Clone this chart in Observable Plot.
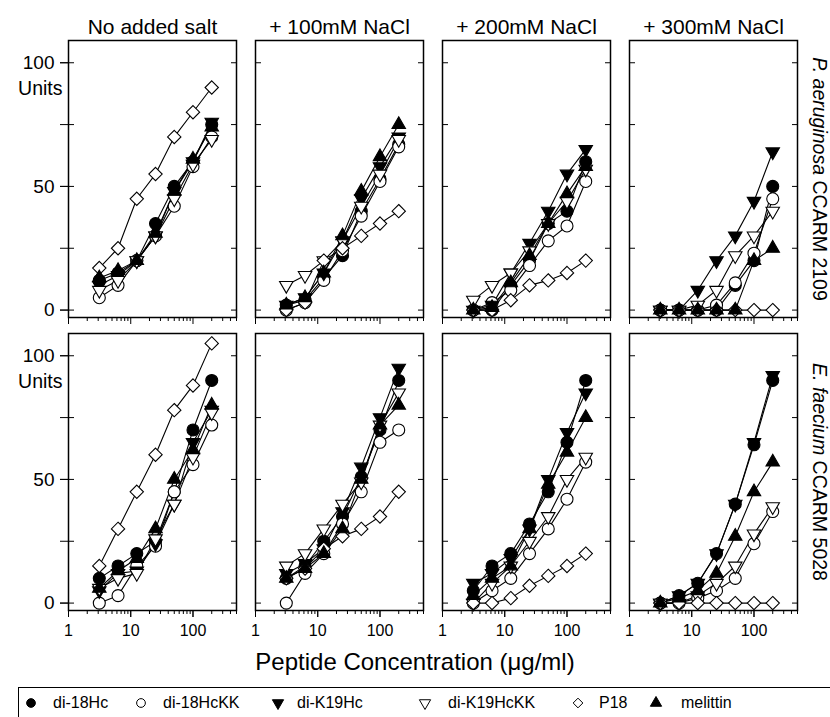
<!DOCTYPE html>
<html>
<head>
<meta charset="utf-8">
<script src="https://cdn.jsdelivr.net/npm/d3@7"></script>
<script src="https://cdn.jsdelivr.net/npm/@observablehq/plot@0.6"></script>
<style>
  html, body { margin: 0; padding: 0; background: #fff; }
  #wrap { position: relative; width: 830px; height: 717px; overflow: hidden; font-family: "Liberation Sans", Arial, sans-serif; color: #000; }
  #chart { position: absolute; left: 0; top: 0; }
  #xtitle { position: absolute; left: 0; width: 830px; top: 648px; text-align: center; font-size: 24px; }
  #legend { position: absolute; left: 18px; top: 687px; width: 840px; height: 40px; border: 1.5px solid #000; box-sizing: border-box; }
  .li { position: absolute; top: 5px; font-size: 16px; line-height: 20px; white-space: nowrap; }
  .ls { position: absolute; top: 8px; }
</style>
</head>
<body>
<div id="wrap">
  <div id="chart"></div>
  <div id="xtitle">Peptide Concentration (μg/ml)</div>
  <div id="legend"></div>
</div>
<script>
// ---- data ----
const conc = [3.125, 6.25, 12.5, 25, 50, 100, 200];
const salts = ["No added salt", "+ 100mM NaCl", "+ 200mM NaCl", "+ 300mM NaCl"];
const organisms = ["P. aeruginosa CCARM 2109", "E. faecium CCARM 5028"];
const species = ["P. aeruginosa", "E. faecium"];
const peptides = ["di-18Hc", "di-18HcKK", "di-K19Hc", "di-K19HcKK", "P18", "melittin"];
const xTicks = [1, 10, 100];
const xMinorTicks = [2, 3, 4, 5, 6, 7, 8, 9, 20, 30, 40, 50, 60, 70, 80, 90, 200, 300, 400, 500];
const yTicks = [0, 50, 100];
const yMinorTicks = [0, 25, 50, 75, 100];

// rows: di-18Hc, di-18HcKK, di-K19Hc, di-K19HcKK, P18, melittin
const pa0 = [
  [12, 15, 20, 35, 50, 60, 75],
  [5, 10, 20, 30, 42, 58, 70],
  [10, 14, 20, 30, 48, 60, 76],
  [8, 12, 20, 30, 45, 59, 69],
  [17, 25, 45, 55, 70, 80, 90],
  [13, 16, 20, 31, 48, 61, 74]
];
const pa100 = [
  [2, 4, 13, 22, 40, 53, 67],
  [0, 3, 12, 24, 38, 52, 66],
  [2, 5, 15, 28, 45, 58, 70],
  [10, 14, 20, 28, 42, 55, 69],
  [0, 3, 20, 25, 30, 35, 40],
  [2, 5, 15, 30, 48, 62, 75]
];
const pa200 = [
  [0, 0, 10, 20, 35, 40, 60],
  [0, 3, 8, 18, 28, 34, 52],
  [0, 2, 15, 27, 40, 55, 65],
  [4, 10, 15, 24, 35, 44, 57],
  [0, 0, 4, 10, 12, 15, 20],
  [0, 1, 11, 22, 35, 47, 58]
];
const pa300 = [
  [0, 0, 0, 0, 10, 20, 50],
  [0, 0, 0, 2, 11, 23, 45],
  [0, 0, 8, 20, 30, 44, 64],
  [0, 0, 2, 8, 22, 30, 40],
  [0, 0, 0, 0, 0, 0, 0],
  [0, 0, 0, 0, 0, 20, 25]
];
const ef0 = [
  [10, 15, 20, 25, 45, 70, 90],
  [0, 3, 15, 23, 45, 56, 72],
  [5, 12, 13, 24, 40, 65, 78],
  [6, 10, 12, 26, 40, 59, 77],
  [15, 30, 45, 60, 78, 88, 105],
  [6, 13, 18, 30, 50, 62, 80]
];
const ef100 = [
  [10, 15, 25, 35, 51, 70, 90],
  [0, 12, 20, 32, 45, 65, 70],
  [12, 16, 22, 37, 55, 75, 95],
  [15, 20, 30, 40, 49, 72, 85],
  [10, 14, 22, 27, 30, 35, 45],
  [10, 14, 20, 30, 50, 72, 80]
];
const ef200 = [
  [5, 15, 20, 32, 45, 65, 90],
  [0, 5, 10, 20, 30, 42, 57],
  [8, 12, 18, 30, 50, 69, 85],
  [0, 8, 15, 25, 35, 50, 59],
  [0, 0, 2, 7, 11, 15, 20],
  [3, 10, 15, 30, 48, 61, 75]
];
const ef300 = [
  [0, 3, 8, 20, 40, 64, 90],
  [0, 0, 2, 5, 10, 24, 37],
  [0, 3, 8, 20, 40, 65, 92],
  [0, 0, 3, 8, 15, 28, 39],
  [0, 0, 0, 0, 0, 0, 0],
  [0, 2, 5, 12, 27, 45, 57]
];

// ---- build table ----
const panels = [
  [organisms[0], salts[0], pa0], [organisms[0], salts[1], pa100],
  [organisms[0], salts[2], pa200], [organisms[0], salts[3], pa300],
  [organisms[1], salts[0], ef0], [organisms[1], salts[1], ef100],
  [organisms[1], salts[2], ef200], [organisms[1], salts[3], ef300]
];
const rows = [];
for (const [org, salt, vals] of panels) {
  vals.forEach((arr, k) => arr.forEach((v, i) => rows.push({org, salt, pep: peptides[k], conc: conc[i], units: v})));
}

const sty = {
  "di-18Hc":    {symbol: "circle",   fill: "black", r: 6,   rotate: 0},
  "di-18HcKK":  {symbol: "circle",   fill: "white", r: 6,   rotate: 0},
  "di-K19Hc":   {symbol: "triangle", fill: "black", r: 5,   rotate: 180},
  "di-K19HcKK": {symbol: "triangle", fill: "white", r: 5,   rotate: 180},
  "P18":        {symbol: "diamond2", fill: "white", r: 6,   rotate: 0},
  "melittin":   {symbol: "triangle", fill: "black", r: 5,   rotate: 0}
};

const empty = () => "";
const rowLabels = organisms.map(o => ({org: o, salt: salts[3]}));
const unitLabels = organisms.map(o => ({org: o, salt: salts[0], u: 89.5, t: "Units"}));

const chart = Plot.plot({
  width: 830,
  height: 645,
  marginLeft: 66,
  marginRight: 31,
  marginTop: 39,
  marginBottom: 34,
  style: {fontFamily: "'Liberation Sans', Arial, sans-serif", fontSize: "16px", color: "black", background: "white", overflow: "visible"},
  x: {type: "log", domain: [1, 500]},
  y: {domain: [-3, 109]},
  fx: {domain: salts, paddingInner: 0.101, paddingOuter: 0},
  fy: {domain: organisms, paddingInner: 0.0544, paddingOuter: 0, axis: null},
  marks: [
    Plot.frame({stroke: "black", strokeWidth: 1.5}),
    // x ticks (all panels)
    Plot.axisX({ticks: xTicks, tickSize: 7, tickFormat: empty, label: null, facetAnchor: null, anchor: "bottom"}),
    Plot.axisX({ticks: xMinorTicks, tickSize: 4, tickFormat: empty, label: null, facetAnchor: null, anchor: "bottom"}),
    // x labels (bottom row)
    Plot.axisX({ticks: xTicks, tickSize: 7, tickPadding: 7, tickFormat: d => String(d), label: null, fontSize: 16, anchor: "bottom", facetAnchor: "bottom"}),
    // y ticks inside each panel
    Plot.axisY({ticks: yMinorTicks, tickSize: 6, dx: 6, tickFormat: empty, label: null, facetAnchor: null, anchor: "left"}),
    Plot.axisY({ticks: yMinorTicks, tickSize: 6, dx: -6, tickFormat: empty, label: null, facetAnchor: null, anchor: "right"}),
    // y labels (left column)
    Plot.axisY({ticks: yMinorTicks, tickSize: 8, tickFormat: empty, label: null, anchor: "left", facetAnchor: "left"}),
    Plot.axisY({ticks: yTicks, tickSize: 8, tickPadding: 6, tickFormat: d => String(d), label: null, fontSize: 19, anchor: "left", facetAnchor: "left"}),
    Plot.text(unitLabels, {fx: "salt", fy: "org", y: "u", frameAnchor: "left", text: "t", textAnchor: "end", dx: -6, fontSize: 19.5}),
    // column titles
    Plot.axisFx({anchor: "top", tickSize: 0, tickPadding: 7, fontSize: 21, label: null}),
    // row labels
    Plot.text(rowLabels, {fx: "salt", fy: "org", frameAnchor: "right", text: "org", rotate: 90, textAnchor: "middle", lineAnchor: "middle", dx: 22, fontSize: 19.5}),
    // series
    Plot.line(rows, {x: "conc", y: "units", z: "pep", fx: "salt", fy: "org", stroke: "black", strokeWidth: 1.1}),
    ...peptides.map(p => Plot.dot(rows.filter(d => d.pep === p), {
      x: "conc", y: "units", fx: "salt", fy: "org",
      symbol: sty[p].symbol, fill: sty[p].fill, r: sty[p].r, rotate: sty[p].rotate,
      stroke: "black", strokeWidth: 1.1
    }))
  ]
});
document.getElementById("chart").appendChild(chart);

// italic species names in row labels
chart.querySelectorAll("text").forEach(t => {
  const i = organisms.indexOf(t.textContent);
  if (i >= 0) {
    const rest = organisms[i].slice(species[i].length);
    t.textContent = "";
    const a = document.createElementNS("http://www.w3.org/2000/svg", "tspan");
    a.setAttribute("font-style", "italic");
    a.textContent = species[i];
    const b = document.createElementNS("http://www.w3.org/2000/svg", "tspan");
    b.textContent = rest;
    t.appendChild(a); t.appendChild(b);
  }
});

// ---- legend ----
const legendPos = [[12, 34], [122, 144], [259, 278], [406, 429], [559, 580], [637, 662]];
const lg = document.getElementById("legend");
peptides.forEach((p, k) => {
  const s = sty[p];
  const sym = {circle: d3.symbolCircle, triangle: d3.symbolTriangle, diamond2: d3.symbolDiamond2}[s.symbol];
  const size = s.symbol === "triangle" ? 55 : 60;
  const svg = d3.create("svg").attr("width", 14).attr("height", 14).attr("class", "ls").style("left", legendPos[k][0] - 7 + "px");
  svg.append("path").attr("d", d3.symbol(sym, size)()).attr("transform", `translate(7,7) rotate(${s.rotate})`)
    .attr("fill", s.fill).attr("stroke", "black").attr("stroke-width", 1);
  lg.appendChild(svg.node());
  const span = document.createElement("span");
  span.className = "li";
  span.style.left = legendPos[k][1] + "px";
  span.textContent = p;
  lg.appendChild(span);
});
</script>
</body>
</html>
